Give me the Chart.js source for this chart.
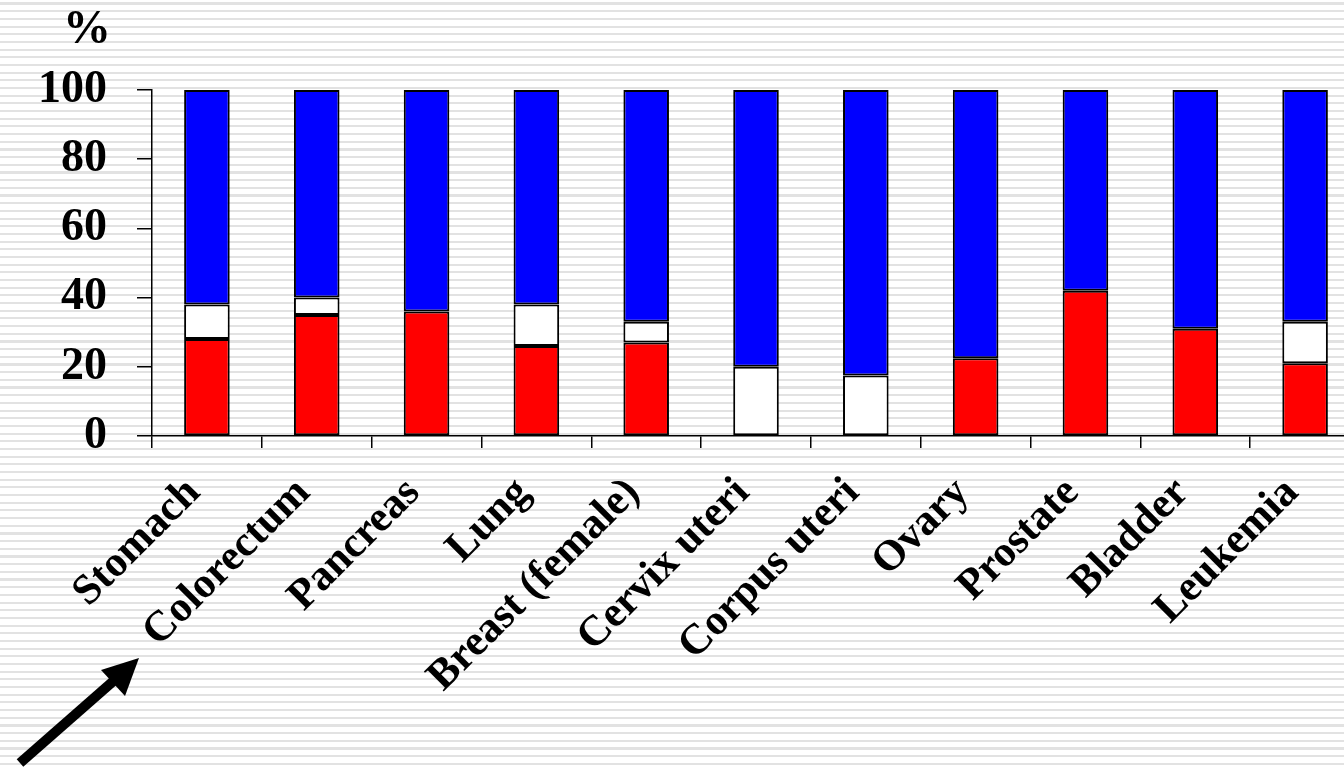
<!DOCTYPE html>
<html>
<head>
<meta charset="utf-8">
<script src="https://cdn.jsdelivr.net/npm/chart.js@4.4.1/dist/chart.umd.min.js"></script>
<style>
    html, body {
        margin: 0;
        padding: 0;
        width: 1344px;
        height: 768px;
        overflow: hidden;
        background: repeating-linear-gradient(180deg,
            #ffffff 0px, #ffffff 2.5px,
            #e2e2e2 2.5px, #e2e2e2 4.6px,
            #ffffff 4.6px, #ffffff 7.68px);
    }
    #wrap {
        position: absolute;
        left: 0;
        top: 0;
        width: 1362px;
        height: 768px;
    }
    #pct {
        position: absolute;
        left: 63px;
        top: 3px;
        font: bold 48px "Liberation Serif", "Times New Roman", serif;
        line-height: 48px;
        color: #000;
    }
</style>
</head>
<body>
<div id="wrap"><canvas id="chart"></canvas></div>
<div id="pct">%</div>
<script>
// categories and stacked shares (%)
const categories = ['Stomach', 'Colorectum', 'Pancreas', 'Lung', 'Breast (female)',
    'Cervix uteri', 'Corpus uteri', 'Ovary', 'Prostate', 'Bladder', 'Leukemia'];
const redValues   = [28, 35, 36, 26, 27, 0, 0, 22.5, 42, 31, 21];
const whiteValues = [10, 5, 0, 12, 6, 20, 17.5, 0, 0, 0, 12];
const blueValues  = [62, 60, 64, 62, 67, 80, 82.5, 77.5, 58, 69, 67];
const yTicks = [0, 20, 40, 60, 80, 100];

const SERIF = '"Liberation Serif", "Times New Roman", serif';

/**
 * Black arrow in the lower left corner
 */
const arrowPlugin = {
    id: 'arrow',
    afterDraw(chart) {
        const ctx = chart.ctx;
        ctx.save();
        ctx.strokeStyle = '#000';
        ctx.fillStyle = '#000';
        ctx.lineWidth = 10;
        ctx.beginPath();
        ctx.moveTo(20, 763);
        ctx.lineTo(118, 677);
        ctx.stroke();
        ctx.beginPath();
        ctx.moveTo(139, 658);
        ctx.lineTo(101, 670);
        ctx.lineTo(125, 696);
        ctx.closePath();
        ctx.fill();
        ctx.restore();
    }
};

function makeSet(label, data, color) {
    return {
        label: label,
        data: data,
        backgroundColor: color,
        borderColor: '#000',
        borderWidth: 2,
        borderSkipped: false,
        barPercentage: 0.5,
        categoryPercentage: 0.83,
    };
}

new Chart(document.getElementById('chart'), {
    type: 'bar',
    data: {
        labels: categories,
        datasets: [
            makeSet('red', redValues, '#ff0000'),
            makeSet('white', whiteValues, '#ffffff'),
            makeSet('blue', blueValues, '#0000ff'),
        ],
    },
    options: {
        responsive: true,
        maintainAspectRatio: false,
        animation: false,
        layout: {
            padding: { top: 90, right: 2, left: 0, bottom: 0 },
        },
        plugins: {
            legend: { display: false },
            tooltip: { enabled: false },
        },
        scales: {
            x: {
                stacked: true,
                afterFit(scale) {
                    scale.height = 768 - 436;
                },
                border: { color: '#000', width: 1.5 },
                grid: {
                    drawOnChartArea: false,
                    color: '#000',
                    lineWidth: 1.5,
                    tickLength: 12,
                    offset: true,
                },
                ticks: {
                    color: '#000',
                    maxRotation: 45,
                    minRotation: 45,
                    padding: 20,
                    labelOffset: -13,
                    autoSkip: false,
                    font: { family: SERIF, size: 43, weight: 'bold' },
                },
            },
            y: {
                stacked: true,
                min: 0,
                max: 100,
                afterFit(scale) {
                    scale.width = 152;
                },
                afterBuildTicks(scale) {
                    scale.ticks = yTicks.map(v => ({ value: v }));
                },
                border: { color: '#000', width: 1.5 },
                grid: {
                    drawOnChartArea: false,
                    color: '#000',
                    lineWidth: 1.5,
                    tickLength: 15,
                },
                ticks: {
                    color: '#000',
                    padding: 30,
                    font: { family: SERIF, size: 46, weight: 'bold' },
                },
            },
        },
    },
    plugins: [arrowPlugin],
});
</script>
</body>
</html>
